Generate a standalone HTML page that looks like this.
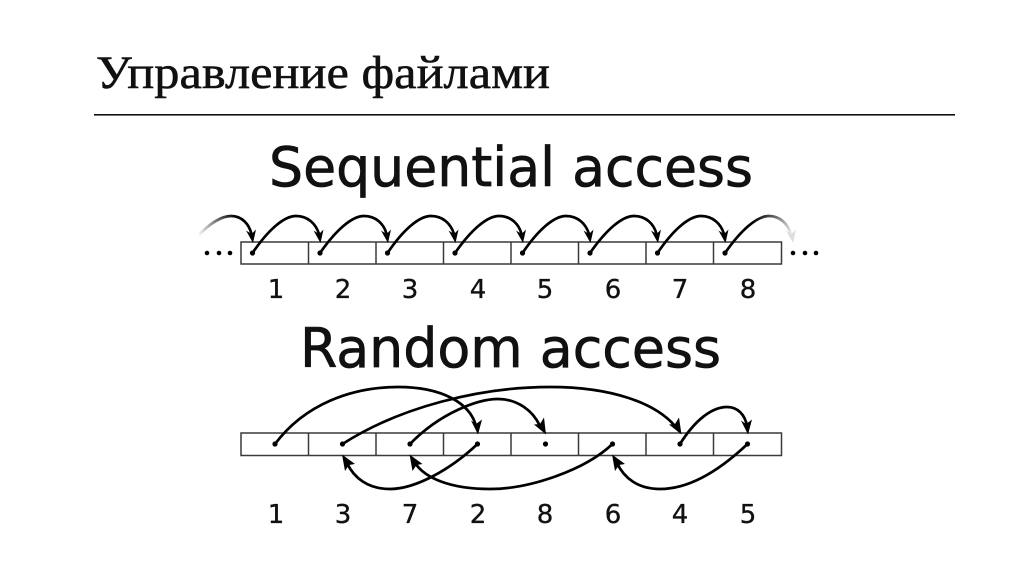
<!DOCTYPE html>
<html><head><meta charset="utf-8"><style>
html,body{margin:0;padding:0;background:#fff;width:1024px;height:574px;overflow:hidden}
svg{display:block;filter:blur(0.3px)}
.d{font-family:"DejaVu Sans",sans-serif;fill:#111;stroke:#111;stroke-width:.7}
.n{font-family:"DejaVu Sans",sans-serif;fill:#111;stroke:#111;stroke-width:.35;font-size:26px;text-anchor:middle}
.c{fill:none;stroke:#000;stroke-width:2.7}
.b{fill:none;stroke:#3a3a3a;stroke-width:1.5}
</style></head><body>
<svg width="1024" height="574" viewBox="0 0 1024 574" xmlns="http://www.w3.org/2000/svg">
<defs>
<linearGradient id="fi" gradientUnits="userSpaceOnUse" x1="198" y1="236" x2="236" y2="216"><stop offset="0" stop-color="#000" stop-opacity="0"/><stop offset="1" stop-color="#000"/></linearGradient>
<linearGradient id="fo" gradientUnits="userSpaceOnUse" x1="755" y1="216" x2="790" y2="235"><stop offset="0" stop-color="#000"/><stop offset="1" stop-color="#000" stop-opacity="0.08"/></linearGradient>
</defs>
<text x="96" y="88" font-family="'Liberation Serif','DejaVu Serif',serif" font-size="47" fill="#111" stroke="#111" stroke-width=".55" textLength="454" lengthAdjust="spacingAndGlyphs">Управление файлами</text>
<rect x="94" y="114" width="861" height="1.6" fill="#111"/>
<text class="d" x="269" y="186" font-size="54" textLength="484" lengthAdjust="spacingAndGlyphs">Sequential access</text>
<text class="d" x="300" y="367" font-size="54" textLength="421" lengthAdjust="spacingAndGlyphs">Random access</text>

<!-- row 1 -->
<path class="b" d="M241 242H781.500V264H241ZM308.500 242V264M376 242V264M443.500 242V264M511 242V264M578.500 242V264M646 242V264M713.500 242V264"/>
<g fill="#000">
<circle cx="252.500" cy="253" r="2.6"/><circle cx="320" cy="253" r="2.6"/><circle cx="387.500" cy="253" r="2.6"/><circle cx="455" cy="253" r="2.6"/><circle cx="522.500" cy="253" r="2.6"/><circle cx="590" cy="253" r="2.6"/><circle cx="657.500" cy="253" r="2.6"/><circle cx="725" cy="253" r="2.6"/>
<circle cx="207" cy="253" r="2.3"/><circle cx="219" cy="253" r="2.3"/><circle cx="230" cy="253" r="2.3"/>
<circle cx="793" cy="253" r="2.3"/><circle cx="805" cy="253" r="2.3"/><circle cx="816" cy="253" r="2.3"/>
</g>
<path d="M197 237C210 223 222 216 231 216C242 216 249 224 251.500 234" fill="none" stroke="url(#fi)" stroke-width="2.7"/>
<path class="c" d="M252.500 253C268 230 284 216 296 216C308 216 316 224 319 234"/>
<path class="c" d="M320 253C336 230 352 216 364 216C376 216 384 224 386.500 234"/>
<path class="c" d="M387.500 253C403 230 419 216 431 216C443 216 451 224 454 234"/>
<path class="c" d="M455 253C471 230 487 216 499 216C511 216 519 224 521.500 234"/>
<path class="c" d="M522.500 253C538 230 554 216 566 216C578 216 586 224 589 234"/>
<path class="c" d="M590 253C606 230 622 216 634 216C646 216 654 224 656.500 234"/>
<path class="c" d="M657.500 253C673 230 689 216 701 216C713 216 721 224 724 234"/>
<path d="M725 253C741 230 757 216 769 216C780 216 788 224 791 234" fill="none" stroke="url(#fo)" stroke-width="2.7"/>
<g fill="#000">
<path d="M253 243L246 230.500L251.500 234L256 229.500Z"/>
<path d="M320.500 243L313.500 230.500L319 234L323.500 229.500Z"/>
<path d="M388 243L381 230.500L386.500 234L391 229.500Z"/>
<path d="M455.500 243L448.500 230.500L454 234L458.500 229.500Z"/>
<path d="M523 243L516 230.500L521.500 234L526 229.500Z"/>
<path d="M590.500 243L583.500 230.500L589 234L593.500 229.500Z"/>
<path d="M658 243L651 230.500L656.500 234L661 229.500Z"/>
<path d="M725.500 243L718.500 230.500L724 234L728.500 229.500Z"/>
</g>
<path d="M793 243L786 230.500L791.500 234L796 229.500Z" fill="#ddd"/>
<text class="n" x="276" y="298">1</text><text class="n" x="343" y="298">2</text><text class="n" x="410" y="298">3</text><text class="n" x="478" y="298">4</text><text class="n" x="545" y="298">5</text><text class="n" x="613" y="298">6</text><text class="n" x="680" y="298">7</text><text class="n" x="748" y="298">8</text>

<!-- row 2 -->
<path class="b" d="M241 433H781.500V455.500H241ZM308.500 433V455.500M376 433V455.500M443.500 433V455.500M511 433V455.500M578.500 433V455.500M646 433V455.500M713.500 433V455.500"/>
<g fill="#000">
<circle cx="275" cy="444" r="2.6"/><circle cx="342.500" cy="444" r="2.6"/><circle cx="410" cy="444" r="2.6"/><circle cx="477.500" cy="444" r="2.6"/><circle cx="545.500" cy="444" r="2.6"/><circle cx="612.500" cy="444" r="2.6"/><circle cx="680" cy="444" r="2.6"/><circle cx="747.500" cy="444" r="2.6"/>
</g>
<path class="c" d="M275 444C305 404 352 387 398 387C442 387 470 403 476 426"/>
<path class="c" d="M342.500 444C400 407 480 387 550 387C612 387 655 403 675 426"/>
<path class="c" d="M410 444C440 413 478 399 498 399C518 399 533 411 540 426"/>
<path class="c" d="M680 444C695 420 712 407 727 407C738 407 745 415 747 426"/>
<path class="c" d="M477.500 444C450 470 415 489 390 489C368 489 354 478 347 463"/>
<path class="c" d="M612.500 444C585 470 530 489 490 489C450 489 425 478 415 463"/>
<path class="c" d="M747.500 444C720 470 690 489 660 489C638 489 624 478 617 463"/>
<g fill="#000">
<path d="M478 434.500L471 420.500L476 424L482 419.500Z"/>
<path d="M681.500 434.500L669 424.500L675 424L679 417.500Z"/>
<path d="M546 434.500L534 424.500L540 424L544 417.500Z"/>
<path d="M748 434.500L741 420.500L746 424L752 419.500Z"/>
<path d="M342 454.500L355 464L349 465L345 471Z"/>
<path d="M409.500 454.500L422.500 464L416.500 465L412.500 471Z"/>
<path d="M612 454.500L625 464L619 465L615 471Z"/>
</g>
<text class="n" x="276" y="523">1</text><text class="n" x="343" y="523">3</text><text class="n" x="410" y="523">7</text><text class="n" x="478" y="523">2</text><text class="n" x="545" y="523">8</text><text class="n" x="613" y="523">6</text><text class="n" x="680" y="523">4</text><text class="n" x="748" y="523">5</text>
</svg>
</body></html>
